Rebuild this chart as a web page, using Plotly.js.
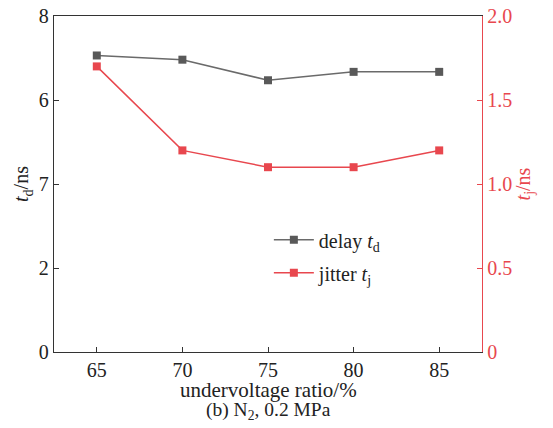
<!DOCTYPE html>
<html><head><meta charset="utf-8">
<script src="https://cdn.plot.ly/plotly-3.0.1.min.js"></script>
<style>html,body{margin:0;padding:0;background:#fff}</style>
</head><body>
<div id="chart" style="width:553px;height:428px"></div>
<script>
const ratio = [65, 70, 75, 80, 85];
const delay = [7.06, 6.96, 6.47, 6.67, 6.67];
const jitter = [1.7, 1.2, 1.1, 1.1, 1.2];
const leftTickVals = [0, 2, 4, 6, 8];
const leftTickText = ["0", "2", "7", "6", "8"];
const rightTickVals = [0, 0.5, 1.0, 1.5, 2.0];
const rightTickText = ["0", "0.5", "1.0", "1.5", "2.0"];
const xTickVals = [65, 70, 75, 80, 85];
const xTitle = 'undervoltage ratio/%';
const caption = '(b) N<sub>2</sub>, 0.2 MPa';

const grey = '#595959', greyLine = '#6a6a6a', red = '#e8474e';
const font = 'Liberation Serif';
const fs = 20;

const traces = [
  {x: ratio, y: delay, name: 'delay <i>t</i><sub>d</sub>', type: 'scatter', mode: 'lines+markers', legendgroup: 'a',
   line: {color: greyLine, width: 1.5}, marker: {symbol: 'square', size: 8, color: grey}},
  {x: ratio, y: jitter, name: 'jitter <i>t</i><sub>j</sub>', type: 'scatter', mode: 'lines+markers', yaxis: 'y2', legendgroup: 'b',
   line: {color: red, width: 1.5}, marker: {symbol: 'square', size: 8, color: red}}
];

const layout = {
  width: 553, height: 428,
  margin: {l: 54, r: 71, t: 16, b: 76},
  paper_bgcolor: '#fff', plot_bgcolor: '#fff',
  font: {family: font, size: fs, color: '#222'},
  showlegend: true,
  legend: {x: 0.502, y: 0.392, xanchor: 'left', yanchor: 'top', bgcolor: 'rgba(0,0,0,0)',
           font: {family: font, size: fs, color: '#222'}, tracegroupgap: 4, itemwidth: 40},
  xaxis: {range: [62.5, 87.5], tickvals: xTickVals, ticks: 'inside', ticklen: 5, tickcolor: '#333',
          showline: true, linecolor: '#333', linewidth: 1.2, mirror: true, showgrid: false, zeroline: false,
          tickfont: {family: font, size: fs, color: '#222'}},
  yaxis: {range: [0, 8], tickvals: leftTickVals, ticktext: leftTickText, ticks: 'inside', ticklen: 5, tickcolor: '#333',
          showline: true, linecolor: '#333', linewidth: 1.2, showgrid: false, zeroline: false,
          tickfont: {family: font, size: fs, color: '#222'},
          title: {text: '<i>t</i><sub>d</sub>/ns', font: {family: font, size: fs, color: '#222'}, standoff: 4}},
  yaxis2: {range: [0, 2], overlaying: 'y', side: 'right', tickvals: rightTickVals, ticktext: rightTickText,
           ticks: 'inside', ticklen: 5, tickcolor: red, showline: true, linecolor: red, linewidth: 1.2,
           showgrid: false, zeroline: false,
           tickfont: {family: font, size: fs, color: red},
           title: {text: '<i>t</i><sub>j</sub>/ns', font: {family: font, size: fs, color: red}, standoff: 4}},
  annotations: [
    {text: xTitle, xref: 'paper', yref: 'paper', x: 0.5, y: -0.113, xanchor: 'center', yanchor: 'middle',
     showarrow: false, font: {family: font, size: 21, color: '#222'}},
    {text: caption, xref: 'paper', yref: 'paper', x: 0.5, y: -0.177, xanchor: 'center', yanchor: 'middle',
     showarrow: false, font: {family: font, size: 19.5, color: '#222'}}]
};

Plotly.newPlot('chart', traces, layout, {displayModeBar: false, staticPlot: true});
</script>
</body></html>
